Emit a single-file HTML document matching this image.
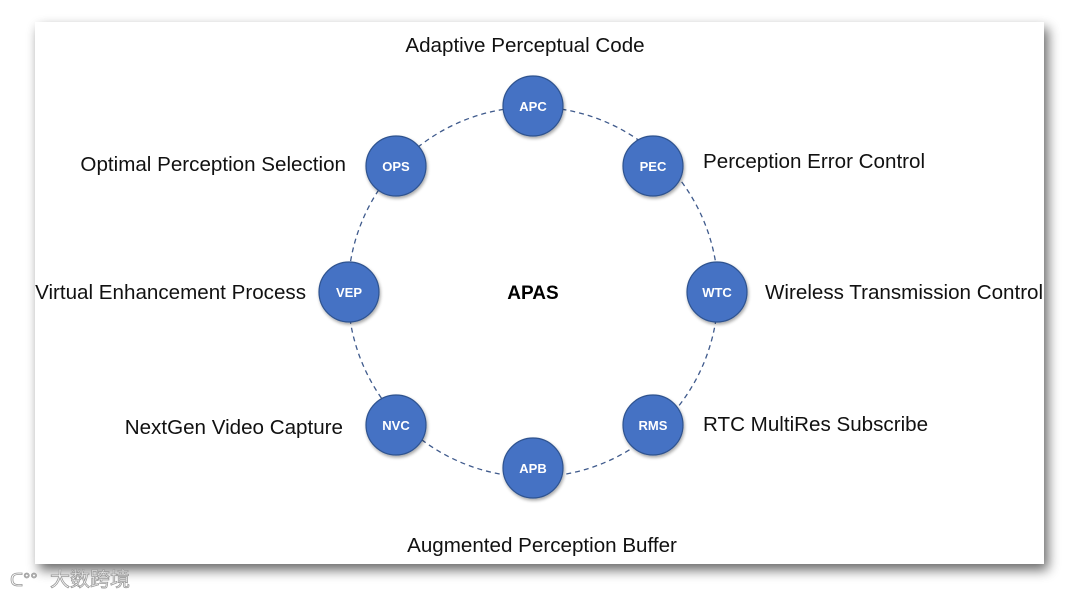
<!DOCTYPE html>
<html><head><meta charset="utf-8"><style>
html,body{margin:0;padding:0;background:#fff;}
body{width:1080px;height:597px;overflow:hidden;position:relative;}
svg{position:absolute;left:0;top:0;}
</style></head><body>
<svg width="1080" height="597" viewBox="0 0 1080 597" xmlns="http://www.w3.org/2000/svg">
<defs>
<filter id="sh" x="-5%" y="-5%" width="115%" height="120%">
<feGaussianBlur in="SourceAlpha" stdDeviation="6"/>
<feOffset dx="4" dy="6"/>
<feComponentTransfer><feFuncA type="linear" slope="0.6"/></feComponentTransfer>
<feMerge><feMergeNode/><feMergeNode in="SourceGraphic"/></feMerge>
</filter>
<filter id="ns" x="-30%" y="-30%" width="160%" height="160%">
<feGaussianBlur in="SourceAlpha" stdDeviation="1.5"/>
<feOffset dx="1" dy="2"/>
<feComponentTransfer><feFuncA type="linear" slope="0.35"/></feComponentTransfer>
<feMerge><feMergeNode/><feMergeNode in="SourceGraphic"/></feMerge>
</filter>
</defs>
<rect x="35" y="22" width="1009" height="542" fill="#fff" filter="url(#sh)"/>
<circle cx="533" cy="292" r="185" fill="none" stroke="#3f5a8c" stroke-width="1.3" stroke-dasharray="5,4"/>
<g font-family="Liberation Sans, sans-serif" font-size="13" font-weight="bold" fill="#fff" text-anchor="middle">
<g filter="url(#ns)" fill="#4472c4" stroke="#2f528f" stroke-width="1.2">
<circle cx="533" cy="106" r="30"/>
<circle cx="653" cy="166" r="30"/>
<circle cx="717" cy="292" r="30"/>
<circle cx="653" cy="425" r="30"/>
<circle cx="533" cy="468" r="30"/>
<circle cx="396" cy="425" r="30"/>
<circle cx="349" cy="292" r="30"/>
<circle cx="396" cy="166" r="30"/>
</g>
<text x="533" y="111">APC</text>
<text x="653" y="171">PEC</text>
<text x="717" y="297">WTC</text>
<text x="653" y="430">RMS</text>
<text x="533" y="473">APB</text>
<text x="396" y="430">NVC</text>
<text x="349" y="297">VEP</text>
<text x="396" y="171">OPS</text>
</g>
<text x="533" y="299" font-family="Liberation Sans, sans-serif" font-size="19" font-weight="bold" fill="#000" text-anchor="middle">APAS</text>
<g font-family="Liberation Sans, sans-serif" font-size="20.6" fill="#111">
<text x="525" y="52" text-anchor="middle">Adaptive Perceptual Code</text>
<text x="703" y="168">Perception Error Control</text>
<text x="765" y="299">Wireless Transmission Control</text>
<text x="703" y="431">RTC MultiRes Subscribe</text>
<text x="542" y="552" text-anchor="middle">Augmented Perception Buffer</text>
<text x="343" y="434" text-anchor="end">NextGen Video Capture</text>
<text x="306" y="299" text-anchor="end">Virtual Enhancement Process</text>
<text x="346" y="171" text-anchor="end">Optimal Perception Selection</text>
</g>
<text x="50" y="586" font-family="Liberation Sans, Noto Sans CJK SC, sans-serif" font-size="20" fill="#fff" stroke="#999" stroke-width="0.8">大数跨境</text>
<text x="10" y="586" font-family="Liberation Sans, sans-serif" font-size="18" fill="#fff" stroke="#999" stroke-width="0.8">ᑕ°°</text>
</svg>
</body></html>
